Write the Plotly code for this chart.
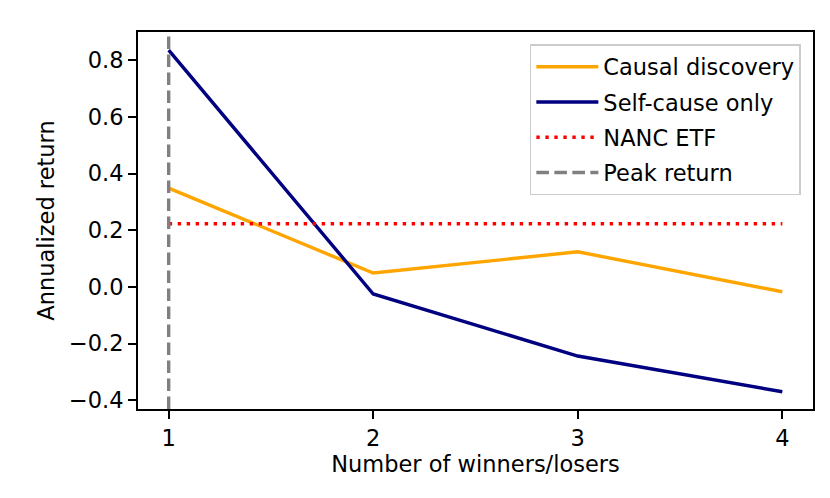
import plotly.graph_objects as go
import numpy as np

# Data
n_winners = [1, 2, 3, 4]
causal_discovery = [0.349, 0.049, 0.124, -0.017]
self_cause_only = [0.836, -0.025, -0.244, -0.370]
nanc_etf = 0.223
x_ticks = [1, 2, 3, 4]
y_ticks = [-0.4, -0.2, 0.0, 0.2, 0.4, 0.6, 0.8]
y_ticktext = ["\u22120.4", "\u22120.2", "0.0", "0.2", "0.4", "0.6", "0.8"]

peak_x = n_winners[int(np.argmax(self_cause_only))]

FONT = "DejaVu Sans"
FS = 22.5
LW = 3.4

fig = go.Figure()
fig.add_trace(go.Scatter(x=n_winners, y=causal_discovery, mode="lines", legendgroup="a",
                         name="Causal discovery", line=dict(color="#FFA500", width=LW)))
fig.add_trace(go.Scatter(x=n_winners, y=self_cause_only, mode="lines", legendgroup="b",
                         name="Self-cause only", line=dict(color="#000080", width=LW)))
fig.add_trace(go.Scatter(x=n_winners, y=[nanc_etf] * len(n_winners), mode="lines", legendgroup="c",
                         name="NANC ETF", line=dict(color="red", width=LW, dash="3.4px,5.6px")))
fig.add_vline(x=peak_x, line=dict(color="#808080", width=LW, dash="12.6px,5.4px"),
              showlegend=True, name="Peak return", legendrank=1001, legendgroup="d")

axis_common = dict(showgrid=False, zeroline=False, showline=True, mirror=True,
                   linecolor="black", linewidth=1.8, ticks="outside", ticklen=8,
                   tickwidth=1.8, tickcolor="black", automargin=False,
                   tickfont=dict(family=FONT, size=FS, color="black"))

fig.update_layout(
    width=830, height=498,
    margin=dict(l=130, r=25, t=24, b=97),
    paper_bgcolor="white", plot_bgcolor="white",
    font=dict(family=FONT, size=FS, color="black"),
    xaxis=dict(range=[0.85, 4.15], tickvals=x_ticks,
               title=dict(text="Number of winners/losers", font=dict(family=FONT, size=FS), standoff=4),
               **axis_common),
    yaxis=dict(range=[-0.431, 0.9], tickvals=y_ticks, ticktext=y_ticktext,
               title=dict(text="Annualized return", font=dict(family=FONT, size=FS), standoff=8),
               **axis_common),
    legend=dict(x=0.982, y=0.968, xanchor="right", yanchor="top", itemwidth=62,
                tracegroupgap=3,
                bgcolor="rgba(255,255,255,0.8)", bordercolor="#cccccc", borderwidth=1.5,
                font=dict(family=FONT, size=FS, color="black")),
    showlegend=True,
)

fig.write_html("out.html")
